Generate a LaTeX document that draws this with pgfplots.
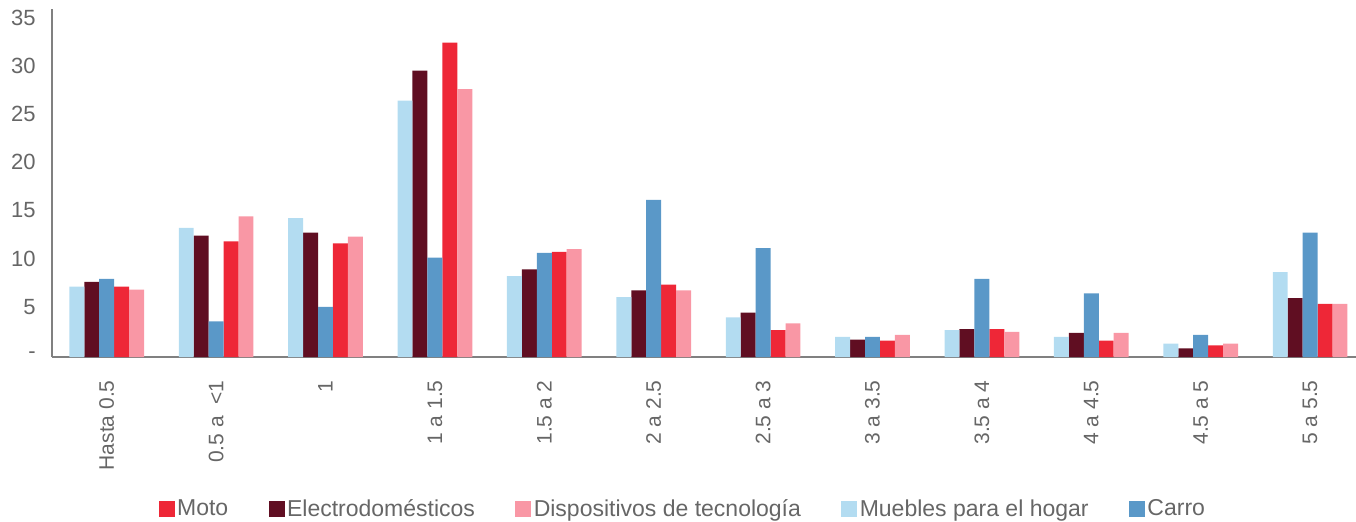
\documentclass[border=0pt]{standalone}
\usepackage{pgfplots}
\pgfplotsset{compat=1.18}
\usepackage{fontspec}
\setmainfont{Liberation Sans}
\definecolor{cMueb}{HTML}{B3DCF1}
\definecolor{cElec}{HTML}{600E22}
\definecolor{cCarro}{HTML}{5A98C8}
\definecolor{cMoto}{HTML}{EE2737}
\definecolor{cDisp}{HTML}{F997A5}
\definecolor{txtgray}{HTML}{666666}
\definecolor{axisgray}{HTML}{808080}
\begin{document}
\begin{tikzpicture}
\path[use as bounding box] (-26pt,-82pt) rectangle (652pt,178.5pt);
\begin{axis}[
  at={(0pt,0pt)}, anchor=south west,
  scale only axis, width=656.4pt, height=174pt,
  xmin=-0.5, xmax=11.5, ymin=0, ymax=36.1,
  enlargelimits=false,
  axis lines*=left,
  axis line style={draw=axisgray, line width=0.7pt},
  ybar, bar width=7.47pt,
  xtick={0,...,11},
  xticklabels={Hasta 0.5, 0.5 a\ \ <1, 1, 1 a 1.5, 1.5 a 2, 2 a 2.5, 2.5 a 3, 3 a 3.5, 3.5 a 4, 4 a 4.5, 4.5 a 5, 5 a 5.5},
  ytick={0,5,...,35},
  yticklabels={-,5,10,15,20,25,30,35},
  major tick length=0pt,
  tick style={draw=none},
  xticklabel style={rotate=90, anchor=east, inner sep=0pt, font=\fontsize{10.5}{12}\selectfont, text=txtgray},
  xticklabel shift=11.5pt,
  yticklabel style={anchor=east, inner sep=0pt, xshift=-8pt, yshift=1pt, font=\fontsize{11}{13}\selectfont, text=txtgray},
  legend columns=5,
  legend style={at={(0.4807,-0.438)}, anchor=center, draw=none, fill=none,
    font=\fontsize{11.5}{13}\selectfont, text=txtgray,
    /tikz/every even column/.append style={column sep=19pt},
    inner sep=0pt, nodes={inner sep=1.2pt}},
  legend image code/.code={\fill[#1] (0pt,-3.6pt) rectangle (8pt,4.4pt);},
]
\addplot[fill=cMoto, draw=none, bar shift=7.47pt] coordinates {(0,7.3) (1,12.0) (2,11.8) (3,32.6) (4,10.9) (5,7.5) (6,2.8) (7,1.7) (8,2.9) (9,1.7) (10,1.2) (11,5.5)};
\addlegendentry{Moto}
\addplot[fill=cElec, draw=none, bar shift=-7.47pt] coordinates {(0,7.8) (1,12.6) (2,12.9) (3,29.7) (4,9.1) (5,6.9) (6,4.6) (7,1.8) (8,2.9) (9,2.5) (10,0.9) (11,6.1)};
\addlegendentry{Electrodomésticos}
\addplot[fill=cDisp, draw=none, bar shift=14.94pt] coordinates {(0,7.0) (1,14.6) (2,12.5) (3,27.8) (4,11.2) (5,6.9) (6,3.5) (7,2.3) (8,2.6) (9,2.5) (10,1.4) (11,5.5)};
\addlegendentry{Dispositivos de tecnología}
\addplot[fill=cMueb, draw=none, bar shift=-14.94pt] coordinates {(0,7.3) (1,13.4) (2,14.4) (3,26.6) (4,8.4) (5,6.2) (6,4.1) (7,2.1) (8,2.8) (9,2.1) (10,1.4) (11,8.8)};
\addlegendentry{Muebles para el hogar}
\addplot[fill=cCarro, draw=none, bar shift=0pt] coordinates {(0,8.1) (1,3.7) (2,5.2) (3,10.3) (4,10.8) (5,16.3) (6,11.3) (7,2.1) (8,8.1) (9,6.6) (10,2.3) (11,12.9)};
\addlegendentry{Carro}
\end{axis}
\end{tikzpicture}
\end{document}
